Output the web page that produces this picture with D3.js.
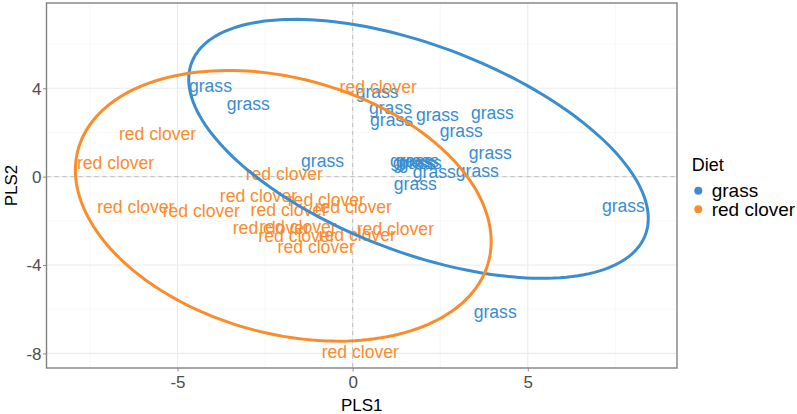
<!DOCTYPE html>
<html>
<head>
<meta charset="utf-8">
<script src="https://cdn.jsdelivr.net/npm/d3@7/dist/d3.min.js"></script>
<style>
  html, body { margin: 0; padding: 0; background: #ffffff; }
  svg { display: block; font-family: "Liberation Sans", Arial, Helvetica, sans-serif; }
</style>
</head>
<body>
<svg id="chart" width="797" height="414"></svg>
<script>
// ---------- data ----------
const diets = ["grass", "red clover"];
const dietColors = ["#3A8DCF", "#FB8C2B"];

const grassX = [-4.06, -2.98, -0.86, 0.70, 1.08, 1.11, 2.42, 3.99, 3.10, 3.93, 1.68, 1.76, 1.85, 1.93, 2.33, 3.56, 1.79, 7.73, 4.07];
const grassY = [4.11, 3.29, 0.72, 3.84, 3.11, 2.57, 2.80, 2.89, 2.08, 1.08, 0.72, 0.63, 0.72, 0.63, 0.20, 0.27, -0.32, -1.31, -6.14];

const cloverX = [-5.57, -6.77, 0.73, -1.95, -2.69, -0.75, -6.19, -4.32, -1.81, 0.02, -2.32, -1.56, -1.59, 0.13, 1.22, -1.04, 0.22];
const cloverY = [1.94, 0.63, 4.06, 0.14, -0.88, -1.04, -1.35, -1.53, -1.49, -1.35, -2.30, -2.26, -2.69, -2.62, -2.35, -3.16, -7.94];

// 95% ellipse parameters per diet (centre, half extents, correlation)
const ellipseCX = [1.88, -1.98];
const ellipseCY = [1.26, -1.32];
const ellipseSX = [6.56, 5.935];
const ellipseSY = [5.86, 6.125];
const ellipseR  = [-0.538, -0.264];

const xTicks = [-5, 0, 5];
const yTicks = [-8, -4, 0, 4];
const xMinorTicks = [-7.5, -2.5, 2.5, 7.5];
const yMinorTicks = [-6, -2, 2, 6];
const xDomain = [-8.74, 9.26];
const yDomain = [-8.66, 7.86];

// ---------- layout ----------
const panel = { left: 46.5, right: 677, top: 3, bottom: 368 };
const svg = d3.select("#chart");

const x = d3.scaleLinear().domain(xDomain).range([panel.left, panel.right]);
const y = d3.scaleLinear().domain(yDomain).range([panel.bottom, panel.top]);

// grid
const grid = svg.append("g");
grid.selectAll(".xminor").data(xMinorTicks).join("line")
  .attr("x1", d => x(d)).attr("x2", d => x(d))
  .attr("y1", panel.top).attr("y2", panel.bottom)
  .attr("stroke", "#F2F2F2").attr("stroke-width", 0.6);
grid.selectAll(".yminor").data(yMinorTicks).join("line")
  .attr("y1", d => y(d)).attr("y2", d => y(d))
  .attr("x1", panel.left).attr("x2", panel.right)
  .attr("stroke", "#F2F2F2").attr("stroke-width", 0.6);
grid.selectAll(".xmajor").data(xTicks).join("line")
  .attr("x1", d => x(d)).attr("x2", d => x(d))
  .attr("y1", panel.top).attr("y2", panel.bottom)
  .attr("stroke", "#EBEBEB").attr("stroke-width", 1.1);
grid.selectAll(".ymajor").data(yTicks).join("line")
  .attr("y1", d => y(d)).attr("y2", d => y(d))
  .attr("x1", panel.left).attr("x2", panel.right)
  .attr("stroke", "#EBEBEB").attr("stroke-width", 1.1);

// zero reference lines
svg.append("line")
  .attr("x1", x(0)).attr("x2", x(0)).attr("y1", panel.top).attr("y2", panel.bottom)
  .attr("stroke", "#BDBDBD").attr("stroke-width", 1).attr("stroke-dasharray", "4,4");
svg.append("line")
  .attr("y1", y(0)).attr("y2", y(0)).attr("x1", panel.left).attr("x2", panel.right)
  .attr("stroke", "#BDBDBD").attr("stroke-width", 1).attr("stroke-dasharray", "4,4");

// text labels
const points = [];
grassX.forEach((v, i) => points.push({ x: v, y: grassY[i], g: 0 }));
cloverX.forEach((v, i) => points.push({ x: v, y: cloverY[i], g: 1 }));

svg.append("g").selectAll("text").data(points).join("text")
  .attr("x", d => x(d.x)).attr("y", d => y(d.y))
  .attr("text-anchor", "middle").attr("dy", "0.35em")
  .attr("font-size", 17.6)
  .attr("fill", d => dietColors[d.g])
  .text(d => diets[d.g]);

// ellipses
const tSteps = d3.range(0, 361, 2).map(a => a * Math.PI / 180);
const line = d3.line().x(d => x(d[0])).y(d => y(d[1])).curve(d3.curveLinearClosed);
diets.forEach((dname, i) => {
  const sx = ellipseSX[i], sy = ellipseSY[i], r = ellipseR[i];
  const pts = tSteps.map(t => [
    ellipseCX[i] + sx * Math.cos(t),
    ellipseCY[i] + r * sy * Math.cos(t) + sy * Math.sqrt(1 - r * r) * Math.sin(t)
  ]);
  svg.append("path").attr("d", line(pts))
    .attr("fill", "none").attr("stroke", dietColors[i]).attr("stroke-width", 3);
});

// panel border
svg.append("rect")
  .attr("x", panel.left).attr("y", panel.top)
  .attr("width", panel.right - panel.left).attr("height", panel.bottom - panel.top)
  .attr("fill", "none").attr("stroke", "#808080").attr("stroke-width", 1.4);

// axes
const xAxis = svg.append("g").attr("transform", `translate(0,${panel.bottom})`)
  .call(d3.axisBottom(x).tickValues(xTicks).tickSize(3.5).tickPadding(4).tickFormat(d3.format("d")));
const yAxis = svg.append("g").attr("transform", `translate(${panel.left},0)`)
  .call(d3.axisLeft(y).tickValues(yTicks).tickSize(3.5).tickPadding(3).tickFormat(d3.format("d")));
[xAxis, yAxis].forEach(a => {
  a.select(".domain").remove();
  a.selectAll(".tick line").attr("stroke", "#8A8A8A");
  a.selectAll(".tick text").attr("font-size", 17).attr("fill", "#4D4D4D")
    .attr("font-family", "'Liberation Sans', Arial, sans-serif");
});
xAxis.selectAll(".tick text").attr("y", 13.7 - 0).attr("dy", "0.35em");
yAxis.selectAll(".tick text").attr("x", -5).attr("dy", "0.35em");
// format negative numbers with hyphen like the reference
xAxis.selectAll(".tick text").text(d => String(d));
yAxis.selectAll(".tick text").text(d => String(d));

// axis titles
svg.append("text").attr("x", (panel.left + panel.right) / 2).attr("y", 405)
  .attr("text-anchor", "middle").attr("dy", "0.35em").attr("font-size", 17).attr("fill", "#000")
  .text("PLS1");
svg.append("text").attr("transform", `translate(10.7,${(panel.top + panel.bottom) / 2}) rotate(-90)`)
  .attr("text-anchor", "middle").attr("dy", "0.35em").attr("font-size", 17).attr("fill", "#000")
  .text("PLS2");

// legend
const legend = svg.append("g");
legend.append("text").attr("x", 691.7).attr("y", 165).attr("dy", "0.35em")
  .attr("font-size", 18).attr("fill", "#000").text("Diet");
const keyY = [190.7, 209.3];
diets.forEach((dname, i) => {
  legend.append("circle").attr("cx", 698.3).attr("cy", keyY[i]).attr("r", 4)
    .attr("fill", dietColors[i]);
  legend.append("text").attr("x", 711.7).attr("y", keyY[i]).attr("dy", "0.35em")
    .attr("font-size", 19).attr("fill", "#000").text(dname);
});
</script>
</body>
</html>
